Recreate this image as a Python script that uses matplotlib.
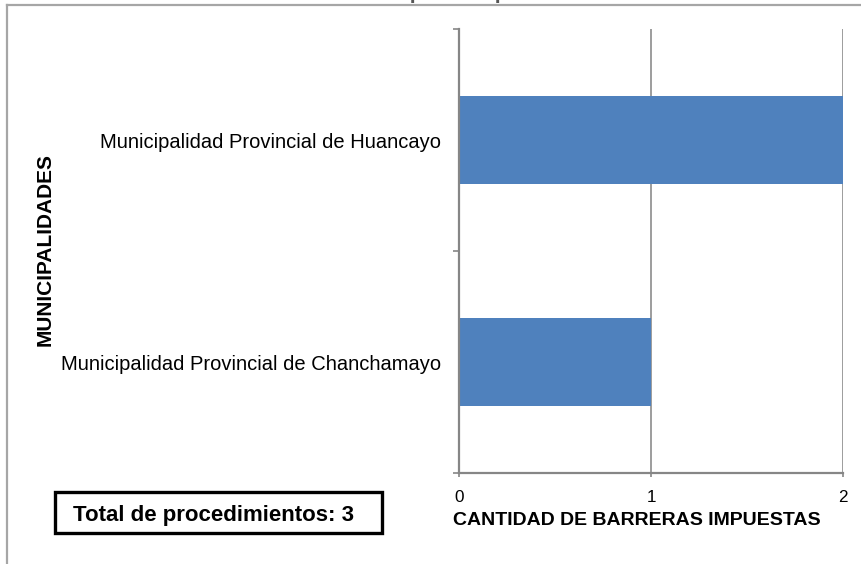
import matplotlib.pyplot as plt
from matplotlib.patches import Rectangle
from matplotlib.lines import Line2D

plt.rcParams['font.family'] = ['Liberation Sans', 'DejaVu Sans']

# chart data
municipalidades = ['Municipalidad Provincial de Chanchamayo',
                   'Municipalidad Provincial de Huancayo']
barreras = [1, 2]
x_ticks = [0, 1, 2]
total_procedimientos = 3

W, H = 861, 564
fig = plt.figure(figsize=(W / 100, H / 100), dpi=100)


def fx(px):
    return px / W


def fy(px):
    return 1 - px / H


# outer chart frame (only top and left visible)
fig.add_artist(Line2D([fx(7), 1], [fy(5), fy(5)], color='#a6a6a6', lw=1.6))
fig.add_artist(Line2D([fx(7), fx(7)], [fy(5), 0], color='#a6a6a6', lw=1.6))

# title, cut off by the top edge as in the source image
fig.text(fx(494), fy(-1), 'Barreras burocráticas impuestas por la Sub-Gerencia de Licencias',
         ha='center', va='baseline', fontsize=15, fontweight='bold', color='#555555')

ax = fig.add_axes([fx(459), fy(473), fx(843) - fx(459), fy(29) - fy(473)])
pos = list(range(len(municipalidades)))
ax.barh(pos, barreras, height=0.4, color='#4f81bd', zorder=3)

ax.set_xlim(0, 2)
ax.set_ylim(-0.5, len(municipalidades) - 0.5)
ax.set_xticks(x_ticks)
ax.set_xticklabels([str(t) for t in x_ticks], fontsize=12.3)
ax.tick_params(axis='x', direction='out', length=3, width=1.2, color='#868686', pad=9.5)

ax.set_yticks([p - 0.5 for p in pos] + [len(pos) - 0.5])
ax.set_yticklabels([])
ax.set_yticks(pos, minor=True)
ax.set_yticklabels(municipalidades, minor=True, fontsize=14.5)
ax.tick_params(axis='y', which='major', direction='out', length=4, width=1.2, color='#868686')
ax.tick_params(axis='y', which='minor', length=0, pad=12.7)

ax.grid(axis='x', color='#8c8c8c', lw=1.2, zorder=0)
ax.set_axisbelow(True)
for s in ['top', 'right']:
    ax.spines[s].set_visible(False)
for s in ['left', 'bottom']:
    ax.spines[s].set_color('#868686')
    ax.spines[s].set_linewidth(1.6)
    ax.spines[s].set_zorder(4)

fig.text(fx(637), fy(525), 'CANTIDAD DE BARRERAS IMPUESTAS', ha='center', va='baseline',
         fontsize=14, fontweight='bold')
fig.text(fx(45), fy(250), 'MUNICIPALIDADES', ha='center', va='center', rotation=90,
         fontsize=15, fontweight='bold')

# total box
fig.add_artist(Rectangle((fx(55), fy(533)), fx(382) - fx(55), fy(492) - fy(533),
                         fill=False, edgecolor='black', lw=2.4))
fig.text(fx(73), fy(521.5), f'Total de procedimientos: {total_procedimientos}',
         ha='left', va='baseline', fontsize=16, fontweight='bold')

fig.savefig('out.png', dpi=100)
